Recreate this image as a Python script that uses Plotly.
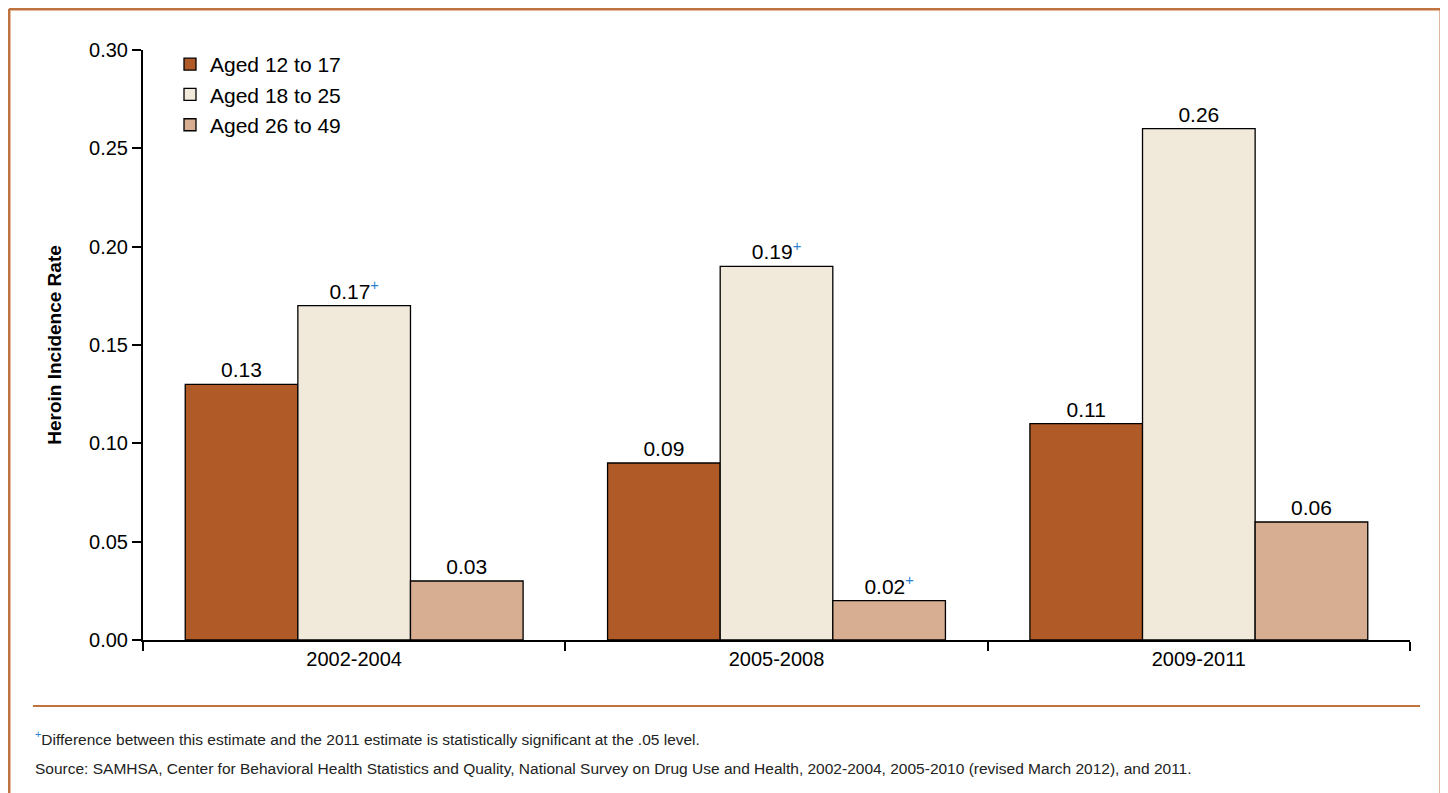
import plotly.graph_objects as go

periods = ["2002-2004", "2005-2008", "2009-2011"]
series = ["Aged 12 to 17", "Aged 18 to 25", "Aged 26 to 49"]
values = [
    [0.13, 0.09, 0.11],
    [0.17, 0.19, 0.26],
    [0.03, 0.02, 0.06],
]
significant = [
    [False, False, False],
    [True, True, False],
    [False, True, False],
]
colors = ["#B05A28", "#F1E9D9", "#D8AE92"]
tick_vals = [0, 0.05, 0.10, 0.15, 0.20, 0.25, 0.30]

FONT = "Liberation Sans, Arial, sans-serif"
PLUS = "<span style='color:#2a7fd0'><sup>+</sup></span>"

fig = go.Figure()
for name, vals, sig, col in zip(series, values, significant, colors):
    fig.add_trace(go.Bar(
        x=periods, y=vals, name=name,
        marker=dict(color=col, line=dict(color="black", width=1.3)),
        text=[f"{v:.2f}" + (PLUS if s else "") for v, s in zip(vals, sig)],
        textposition="outside", cliponaxis=False,
        textfont=dict(family=FONT, size=21, color="black"),
    ))

# page has an 8px body margin, so everything is placed 8px up/left
OFF = 8
W, H = 1448 - 2 * OFF, 793 - OFF
L, R, T, B = 143 - OFF, 38 - OFF, 50 - OFF, 153
pw, ph = W - L - R, H - T - B
def px(x): return (x - OFF - L) / pw
def py(y): return (H - B - (y - OFF)) / ph

border = "#C0733F"
shapes = [
    dict(type="line", xref="paper", yref="paper", x0=px(9), x1=px(9), y0=py(9), y1=py(800), line=dict(color=border, width=3)),
    dict(type="line", xref="paper", yref="paper", x0=px(9), x1=px(1441), y0=py(9), y1=py(9), line=dict(color=border, width=3)),
    dict(type="line", xref="paper", yref="paper", x0=px(1441), x1=px(1441), y0=py(9), y1=py(800), line=dict(color=border, width=3)),
    dict(type="line", xref="paper", yref="paper", x0=px(33), x1=px(1420), y0=py(706), y1=py(706), line=dict(color=border, width=2)),
]
annotations = [
    dict(xref="paper", yref="paper", x=px(33), y=py(738), xanchor="left", yanchor="middle", showarrow=False,
         text="<span style='color:#2a7fd0'><sup>+</sup></span>Difference between this estimate and the 2011 estimate is statistically significant at the .05 level.",
         font=dict(family=FONT, size=15.5, color="#222")),
    dict(xref="paper", yref="paper", x=px(33), y=py(768), xanchor="left", yanchor="middle", showarrow=False,
         text="Source: SAMHSA, Center for Behavioral Health Statistics and Quality, National Survey on Drug Use and Health, 2002-2004, 2005-2010 (revised March 2012), and 2011.",
         font=dict(family=FONT, size=15.5, color="#222")),
]

fig.update_layout(
    width=W, height=H,
    margin=dict(l=L, r=R, t=T, b=B),
    paper_bgcolor="white", plot_bgcolor="white",
    barmode="group", bargap=0.2, bargroupgap=0,
    font=dict(family=FONT, size=20, color="black"),
    legend=dict(x=px(170), y=py(44), xanchor="left", yanchor="top",
                font=dict(family=FONT, size=21), itemwidth=30, tracegroupgap=4),
    xaxis=dict(range=[-0.5, 2.5], showline=True, linecolor="black", linewidth=2,
               ticks="outside", tickson="boundaries", ticklen=9, tickwidth=2, tickcolor="black",
               showgrid=False, tickfont=dict(family=FONT, size=20)),
    yaxis=dict(range=[0, 0.30], tickvals=tick_vals, tickformat=".2f", showline=True,
               linecolor="black", linewidth=2, ticks="outside", ticklen=9, tickwidth=2,
               tickcolor="black", showgrid=False, zeroline=False,
               tickfont=dict(family=FONT, size=20),
               title=dict(text="<b>Heroin Incidence Rate</b>", font=dict(family=FONT, size=19), standoff=22)),
    shapes=shapes, annotations=annotations,
)

fig.write_html("out.html")
